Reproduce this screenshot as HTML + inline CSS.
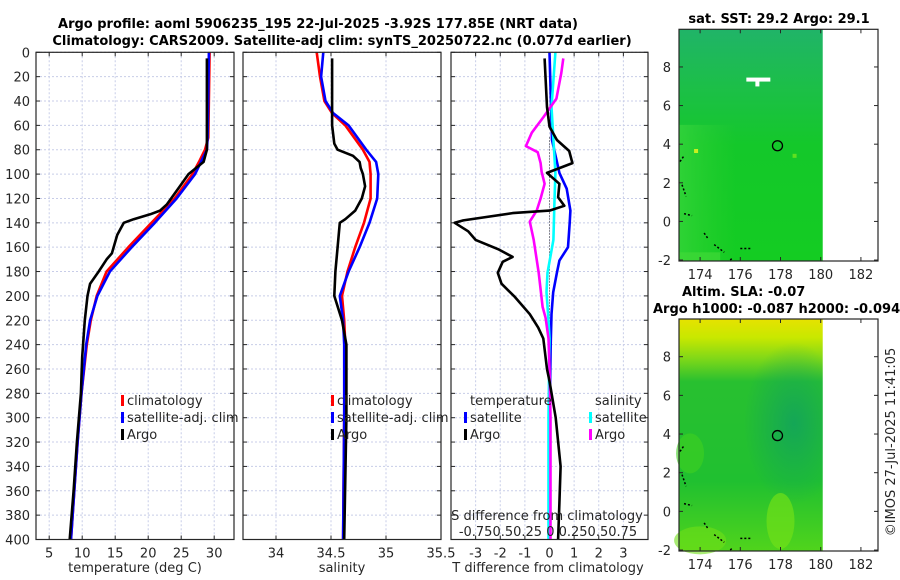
<!DOCTYPE html>
<html><head><meta charset="utf-8">
<style>
html,body{margin:0;padding:0;background:#fff;}
svg{display:block;font-family:"DejaVu Sans","Liberation Sans",sans-serif;}
</style></head>
<body>
<svg id="fig" width="900" height="580" viewBox="0 0 900 580">
<defs>
<linearGradient id="sstg" x1="0" y1="0" x2="0" y2="1">
<stop offset="0" stop-color="#20b468"/><stop offset="0.25" stop-color="#1cbf48"/><stop offset="0.5" stop-color="#14c82a"/><stop offset="1" stop-color="#14cc22"/></linearGradient>
<linearGradient id="sstl" x1="0" y1="0" x2="1" y2="0">
<stop offset="0" stop-color="#40d840" stop-opacity="0.6"/><stop offset="0.4" stop-color="#30d030" stop-opacity="0"/></linearGradient>
<linearGradient id="slag" x1="0" y1="0" x2="0" y2="1">
<stop offset="0" stop-color="#e6e200"/><stop offset="0.08" stop-color="#c8e800"/><stop offset="0.17" stop-color="#80d818"/><stop offset="0.27" stop-color="#28c030"/><stop offset="0.7" stop-color="#20c030"/><stop offset="1" stop-color="#50d41c"/></linearGradient>
<radialGradient id="slad" cx="0.8" cy="0.45" r="0.35">
<stop offset="0" stop-color="#10a060" stop-opacity="0.8"/><stop offset="1" stop-color="#10a060" stop-opacity="0"/></radialGradient>
</defs>
<g id="root"></g>
</svg>
<script>
// ---- Panel 1: temperature ----
const tClimDepth = [0,70,80,90,100,120,140,160,180,200,220,240,280,320,360,400];
const tClim = [29.3,29.1,28.6,27.7,26.7,24.0,20.5,17.0,13.7,12.2,11.3,10.7,9.9,9.3,8.8,8.3];
const tSat  = [29.2,29.0,28.9,28.0,27.1,24.3,21.0,17.5,14.2,12.3,11.2,10.6,9.9,9.3,8.8,8.3];
const tArgoDepth = [5,80,90,100,110,125,130,133,137,140,150,165,170,180,190,200,220,250,280,320,360,400];
const tArgo = [28.9,28.9,28.4,26.1,24.8,22.8,21.8,20.3,17.8,16.3,15.3,14.5,13.7,12.5,11.2,10.8,10.4,10.0,9.8,9.2,8.7,8.1];
const tTicks = [5,10,15,20,25,30];
// ---- Panel 2: salinity ----
const sClimDepth = [0,20,40,50,60,80,90,100,120,140,160,180,200,220,240,300,400];
const sClim = [34.37,34.40,34.44,34.51,34.63,34.79,34.85,34.86,34.86,34.80,34.72,34.65,34.60,34.62,34.63,34.62,34.61];
const sSat  = [34.43,34.41,34.45,34.52,34.66,34.82,34.91,34.93,34.92,34.85,34.76,34.66,34.58,34.61,34.62,34.62,34.61];
const sArgoDepth = [5,60,75,80,85,90,95,100,110,120,130,137,140,160,180,200,220,240,300,400];
const sArgo = [34.51,34.51,34.53,34.56,34.70,34.76,34.77,34.79,34.81,34.78,34.72,34.63,34.58,34.56,34.54,34.53,34.60,34.64,34.64,34.62];
const sTicks = [34,34.5,35,35.5];
// ---- Panel 3: differences ----
const dTArgoDepth = [5,45,61,72,81,91,99,108,119,126,130,132,138,140,147,154,162,168,172,181,190,201,215,226,235,260,270,300,340,370,400];
const dTArgo = [-0.2,-0.1,0,0.3,0.8,0.93,-0.1,0.4,0.35,0.6,0,-1.5,-3.5,-3.85,-3.3,-3.0,-2.05,-1.5,-1.9,-2.1,-1.95,-1.4,-0.8,-0.46,-0.25,-0.1,0,0.25,0.45,0.4,0.35];
const dTSatDepth = [0,72,99,112,130,140,160,171,181,197,215,240,300,400];
const dTSat = [0,0.1,0.4,0.7,0.85,0.82,0.75,0.4,0.3,0.15,0.08,0.05,0.0,0.0];
const dSSatDepth = [0,45,99,124,154,181,197,220,235,300,400];
const dSSat = [0.06,0.02,0.06,0.05,0.04,-0.02,-0.03,-0.01,0,-0.01,-0.01];
const dSArgoDepth = [5,17,38,53,66,77,82,91,98,108,120,130,139,154,181,209,218,235,260,300,400];
const dSArgo = [0.14,0.12,0.07,-0.06,-0.18,-0.24,-0.12,-0.09,-0.08,-0.05,-0.09,-0.13,-0.2,-0.16,-0.11,-0.07,-0.04,-0.01,0.0,0.01,0.01];
const dTTicks = [-3,-2,-1,0,1,2,3];
const depthTicks = [0,20,40,60,80,100,120,140,160,180,200,220,240,260,280,300,320,340,360,380,400];

const NS='http://www.w3.org/2000/svg';
const root=document.getElementById('root');
function mk(tag,attrs,parent){const e=document.createElementNS(NS,tag);for(const k in attrs)e.setAttribute(k,attrs[k]);(parent||root).appendChild(e);return e;}
function txt(s,x,y,attrs,parent){const e=mk('text',Object.assign({x:x,y:y,'font-size':13,fill:'#262626'},attrs||{}),parent);e.textContent=s;return e;}

const Y0=52.3, Y1=539.5;
function yScale(d){return Y0+(d/400)*(Y1-Y0);}

function panel(name,x0,x1,dmin,dmax,ticks,fmt){
  const g=mk('g',{});
  
  
  const xs=v=>x0+(v-dmin)/(dmax-dmin)*(x1-x0);
  depthTicks.forEach(d=>{mk('line',{x1:x0,x2:x1,y1:yScale(d),y2:yScale(d),stroke:'#c8cde8','stroke-width':1,'stroke-dasharray':'2,2'},g);});
  ticks.forEach(t=>{mk('line',{x1:xs(t),x2:xs(t),y1:Y0,y2:Y1,stroke:'#c8cde8','stroke-width':1,'stroke-dasharray':'2,2'},g);});
  depthTicks.forEach(d=>{mk('line',{x1:x0,x2:x0+4,y1:yScale(d),y2:yScale(d),stroke:'#262626'},g);mk('line',{x1:x1,x2:x1-4,y1:yScale(d),y2:yScale(d),stroke:'#262626'},g);});
  ticks.forEach(t=>{mk('line',{x1:xs(t),x2:xs(t),y1:Y1,y2:Y1-4,stroke:'#262626'},g);mk('line',{x1:xs(t),x2:xs(t),y1:Y0,y2:Y0+4,stroke:'#262626'},g);
    const lab=txt(fmt(t),xs(t),Y1+18,{'text-anchor':'middle'},g);
    
    
  });
  return {g,xs};
}
function line(g,xs,depths,vals,color,w,name){
  const pts=depths.map((d,i)=>xs(vals[i]).toFixed(1)+','+yScale(d).toFixed(1)).join(' ');
  const p=mk('polyline',{points:pts,fill:'none',stroke:color,'stroke-width':w,'stroke-linejoin':'round'},g);
  
  
  return p;
}
function frame(g,x0,x1){mk('rect',{x:x0,y:Y0,width:x1-x0,height:Y1-Y0,fill:'none',stroke:'#262626','stroke-width':1.2},g);}

// Panel 1
const P1=panel('temperature-panel',36,234,3,33,tTicks,t=>String(t));
line(P1.g,P1.xs,tClimDepth,tClim,'#ff0000',2.6,'temp-climatology-line');
line(P1.g,P1.xs,tClimDepth,tSat,'#0000ff',2.6,'temp-satellite-line');
line(P1.g,P1.xs,tArgoDepth,tArgo,'#000000',2.6,'temp-argo-line');
frame(P1.g,36,234);
depthTicks.forEach(d=>{const l=txt(String(d),30,yScale(d)+5,{'text-anchor':'end'});});
const xl1=txt('temperature (deg C)',135,572,{'text-anchor':'middle'});


// Panel 2
const P2=panel('salinity-panel',243,441,33.7,35.5,sTicks,t=>String(t));
line(P2.g,P2.xs,sClimDepth,sClim,'#ff0000',2.6,'sal-climatology-line');
line(P2.g,P2.xs,sClimDepth,sSat,'#0000ff',2.6,'sal-satellite-line');
line(P2.g,P2.xs,sArgoDepth,sArgo,'#000000',2.6,'sal-argo-line');
frame(P2.g,243,441);
const xl2=txt('salinity',342,572,{'text-anchor':'middle'});


// Panel 3
const P3=panel('difference-panel',451,648,-4,4,dTTicks,t=>String(t));
const sxs=v=>P3.xs(v*4);
mk('line',{x1:P3.xs(0),x2:P3.xs(0),y1:yScale(70),y2:Y1,stroke:'#333','stroke-width':1,'stroke-dasharray':'1,2'},P3.g);
line(P3.g,P3.xs,dTSatDepth,dTSat,'#0000ff',2.6,'dT-satellite-line');
line(P3.g,sxs,dSSatDepth,dSSat,'#00ffff',2.6,'dS-satellite-line');
line(P3.g,sxs,dSArgoDepth,dSArgo,'#ff00ff',2.6,'dS-argo-line');
line(P3.g,P3.xs,dTArgoDepth,dTArgo,'#000000',2.6,'dT-argo-line');
frame(P3.g,451,648);
const xl3=txt('T difference from climatology',548,572,{'text-anchor':'middle'});

const sl=txt('S difference from climatology',547,520,{'text-anchor':'middle'});

const st=txt('-0.750.50.25 0 0.250.50.75',548,536,{'text-anchor':'middle'});


// legends
function legend(x,y,color,label,name){
  const g=mk('g',{});
  
  
  mk('rect',{x:x,y:y-10,width:3,height:11,fill:color},g);
  txt(label,x+6,y,{},g);
}
legend(121,405,'#ff0000','climatology','legend-temp-climatology');
legend(121,422,'#0000ff','satellite-adj. clim','legend-temp-satellite');
legend(121,439,'#000000','Argo','legend-temp-argo');
legend(331,405,'#ff0000','climatology','legend-sal-climatology');
legend(331,422,'#0000ff','satellite-adj. clim','legend-sal-satellite');
legend(331,439,'#000000','Argo','legend-sal-argo');
const lgT=txt('temperature',470,405);
const lgS=txt('salinity',595,405);
legend(464,422,'#0000ff','satellite','legend-dT-satellite');
legend(464,439,'#000000','Argo','legend-dT-argo');
legend(589,422,'#00ffff','satellite','legend-dS-satellite');
legend(589,439,'#ff00ff','Argo','legend-dS-argo');

// titles
const t1=txt('Argo profile: aoml 5906235_195 22-Jul-2025 -3.92S 177.85E (NRT data)',318,28,{'text-anchor':'middle','font-weight':'bold','fill':'#000'});

const t2=txt('Climatology: CARS2009. Satellite-adj clim: synTS_20250722.nc (0.077d earlier)',342,45,{'text-anchor':'middle','font-weight':'bold','fill':'#000'});


// maps
const lonTicks=[174,176,178,180,182];
const latTicks=[-2,0,2,4,6,8];
function map(name,top,bottom,fillId,extra){
  const g=mk('g',{});
  
  
  const L=679,R=878;
  const lx=v=>L+(v-172.95)/(182.85-172.95)*(R-L);
  const ly=v=>bottom-(v+2.05)/(9.95+2.05)*(bottom-top);
  mk('rect',{x:L,y:top,width:lx(180.1)-L,height:bottom-top,fill:'url(#'+fillId+')'},g);
  extra(g,lx,ly,L);
  [[173.0,3.1,173.2,3.4],[173.1,1.9,173.3,1.3],[173.2,0.4,173.6,0.3],[174.2,-0.6,174.4,-0.9],[174.7,-1.2,175.2,-1.6],[176.0,-1.4,176.5,-1.4],[175.5,-2.0,175.6,-1.9]].forEach(c=>{
    mk('line',{x1:lx(c[0]),y1:ly(c[1]),x2:lx(c[2]),y2:ly(c[3]),stroke:'#000','stroke-width':1.5,'stroke-dasharray':'2,2'},g);});
  const circ=mk('circle',{cx:lx(177.85),cy:ly(3.92),r:5,fill:'none',stroke:'#000','stroke-width':1.3},g);
  
  mk('rect',{x:L,y:top,width:R-L,height:bottom-top,fill:'none',stroke:'#262626','stroke-width':1.2},g);
  lonTicks.forEach(t=>{mk('line',{x1:lx(t),x2:lx(t),y1:bottom,y2:bottom-4,stroke:'#262626'},g);mk('line',{x1:lx(t),x2:lx(t),y1:top,y2:top+4,stroke:'#262626'},g);
    const l=txt(String(t),lx(t),bottom+18,{'text-anchor':'middle'},g);});
  latTicks.forEach(t=>{mk('line',{x1:L,x2:L+4,y1:ly(t),y2:ly(t),stroke:'#262626'},g);mk('line',{x1:R,x2:R-4,y1:ly(t),y2:ly(t),stroke:'#262626'},g);
    const l=txt(String(t),L-8,ly(t)+5,{'text-anchor':'end'},g);});
}
map('sst-map',29.3,261,'sstg',(g,lx,ly,L)=>{
  mk('rect',{x:L,y:ly(5),width:lx(180.1)-L,height:ly(-2.05)-ly(5),fill:'url(#sstl)'},g);
  mk('rect',{x:lx(173.7),y:ly(3.75),width:4,height:4,fill:'#c8f020'},g);
  mk('rect',{x:lx(178.6),y:ly(3.5),width:4,height:4,fill:'#60e020'},g);
  mk('rect',{x:lx(176.3),y:ly(7.45),width:24,height:4,fill:'#fff'},g);
  mk('rect',{x:lx(176.75),y:ly(7.25),width:4,height:5,fill:'#fff'},g);
  mk('rect',{x:L,y:ly(-1.6),width:lx(175)-L,height:ly(-2.05)-ly(-1.6),fill:'#40d838',opacity:0.7},g);
});
map('sla-map',319,551,'slag',(g,lx,ly,L)=>{
  mk('rect',{x:L,y:319,width:lx(180.1)-L,height:232,fill:'url(#slad)'},g);
  mk('ellipse',{cx:lx(178),cy:ly(-0.5),rx:14,ry:28,fill:'#70e018',opacity:0.7},g);
  mk('ellipse',{cx:lx(174),cy:ly(-1.5),rx:26,ry:14,fill:'#70e018',opacity:0.6},g);
  mk('ellipse',{cx:lx(173.5),cy:ly(3),rx:14,ry:20,fill:'#40d020',opacity:0.6},g);
});
const m1=txt('sat. SST: 29.2 Argo: 29.1',779,23,{'text-anchor':'middle','font-weight':'bold','fill':'#000'});

const m2=txt('Altim. SLA: -0.07',682,296,{'font-weight':'bold','fill':'#000'});

const m3=txt('Argo h1000: -0.087 h2000: -0.094',653,313,{'font-weight':'bold','fill':'#000'});

const cp=txt('©IMOS 27-Jul-2025 11:41:05',0,0,{'text-anchor':'middle',transform:'translate(895,442) rotate(-90)'});

</script>
</body></html>
